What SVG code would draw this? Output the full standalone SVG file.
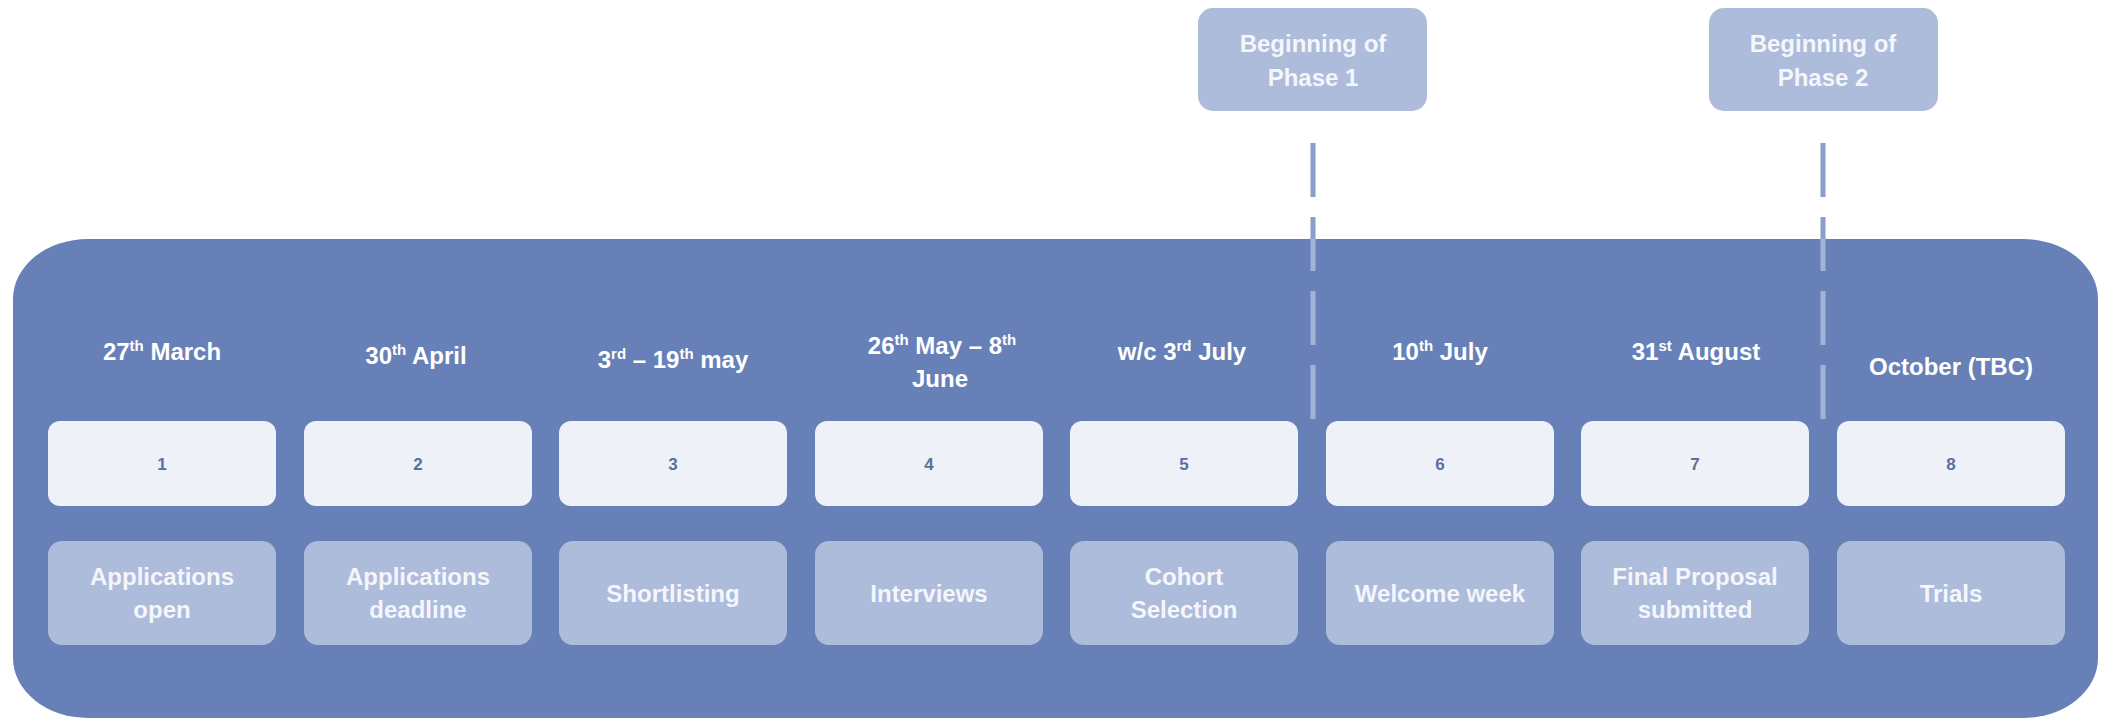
<svg xmlns="http://www.w3.org/2000/svg" width="2101" height="720" viewBox="0 0 2101 720">
  <defs>
    <style>
      .bg { fill: #6781B8; }
      .num-box { fill: #EEF1F8; }
      .lbl-box { fill: #ADBCDB; }
      .phase-box { fill: #ADBCDB; }
      .date { font-family: "Liberation Sans", Arial, sans-serif; font-weight: bold; font-size: 24px; fill: #FFFFFF; text-anchor: middle; }
      .lbl { font-family: "Liberation Sans", Arial, sans-serif; font-weight: bold; font-size: 24px; fill: #F4F6FB; text-anchor: middle; }
      .num { font-family: "Liberation Sans", Arial, sans-serif; font-weight: bold; font-size: 17px; fill: #5B6F9E; text-anchor: middle; }
      .dash-out { fill: none; stroke: #8A9ECB; stroke-width: 5; stroke-dasharray: 54 20; }
      .dash-in { fill: none; stroke: #A4B4D8; stroke-width: 5; stroke-dasharray: 54 20; }
    </style>
    <clipPath id="inside">
      <rect x="0" y="239" width="2101" height="481"/>
    </clipPath>
    <clipPath id="outside">
      <rect x="0" y="0" width="2101" height="239"/>
    </clipPath>
  </defs>

  <rect width="2101" height="720" fill="#FFFFFF"/>

  <g id="timeline-band">
    <rect class="bg" x="13" y="239" width="2085" height="479" rx="75" ry="60"/>
  </g>

  <g id="connectors">
    <g clip-path="url(#outside)">
      <line class="dash-out" x1="1313" y1="143" x2="1313" y2="420"/>
      <line class="dash-out" x1="1823" y1="143" x2="1823" y2="420"/>
    </g>
    <g clip-path="url(#inside)">
      <line class="dash-in" x1="1313" y1="143" x2="1313" y2="420"/>
      <line class="dash-in" x1="1823" y1="143" x2="1823" y2="420"/>
    </g>
  </g>

  <g id="phase1">
    <rect class="phase-box" x="1198" y="8" width="229" height="103" rx="15"/>
    <text class="lbl" x="1313" y="52">Beginning of</text>
    <text class="lbl" x="1313" y="86">Phase 1</text>
  </g>
  <g id="phase2">
    <rect class="phase-box" x="1709" y="8" width="229" height="103" rx="15"/>
    <text class="lbl" x="1823" y="52">Beginning of</text>
    <text class="lbl" x="1823" y="86">Phase 2</text>
  </g>

  <g id="step1">
    <text class="date" x="162" y="360">27<tspan font-size="15" dy="-9">th</tspan><tspan dy="9"> March</tspan></text>
    <rect class="num-box" x="48" y="421" width="228" height="85" rx="12"/>
    <text class="num" x="162" y="470">1</text>
    <rect class="lbl-box" x="48" y="541" width="228" height="104" rx="14"/>
    <text class="lbl" x="162" y="585">Applications</text>
    <text class="lbl" x="162" y="618">open</text>
  </g>

  <g id="step2">
    <text class="date" x="416" y="364">30<tspan font-size="15" dy="-9">th</tspan><tspan dy="9"> April</tspan></text>
    <rect class="num-box" x="304" y="421" width="228" height="85" rx="12"/>
    <text class="num" x="418" y="470">2</text>
    <rect class="lbl-box" x="304" y="541" width="228" height="104" rx="14"/>
    <text class="lbl" x="418" y="585">Applications</text>
    <text class="lbl" x="418" y="618">deadline</text>
  </g>

  <g id="step3">
    <text class="date" x="673" y="368">3<tspan font-size="15" dy="-9">rd</tspan><tspan dy="9"> – 19</tspan><tspan font-size="15" dy="-9">th</tspan><tspan dy="9"> may</tspan></text>
    <rect class="num-box" x="559" y="421" width="228" height="85" rx="12"/>
    <text class="num" x="673" y="470">3</text>
    <rect class="lbl-box" x="559" y="541" width="228" height="104" rx="14"/>
    <text class="lbl" x="673" y="602">Shortlisting</text>
  </g>

  <g id="step4">
    <text class="date" x="942" y="354">26<tspan font-size="15" dy="-9">th</tspan><tspan dy="9"> May – 8</tspan><tspan font-size="15" dy="-9">th</tspan></text>
    <text class="date" x="940" y="387">June</text>
    <rect class="num-box" x="815" y="421" width="228" height="85" rx="12"/>
    <text class="num" x="929" y="470">4</text>
    <rect class="lbl-box" x="815" y="541" width="228" height="104" rx="14"/>
    <text class="lbl" x="929" y="602">Interviews</text>
  </g>

  <g id="step5">
    <text class="date" x="1182" y="360">w/c 3<tspan font-size="15" dy="-9">rd</tspan><tspan dy="9"> July</tspan></text>
    <rect class="num-box" x="1070" y="421" width="228" height="85" rx="12"/>
    <text class="num" x="1184" y="470">5</text>
    <rect class="lbl-box" x="1070" y="541" width="228" height="104" rx="14"/>
    <text class="lbl" x="1184" y="585">Cohort</text>
    <text class="lbl" x="1184" y="618">Selection</text>
  </g>

  <g id="step6">
    <text class="date" x="1440" y="360">10<tspan font-size="15" dy="-9">th</tspan><tspan dy="9"> July</tspan></text>
    <rect class="num-box" x="1326" y="421" width="228" height="85" rx="12"/>
    <text class="num" x="1440" y="470">6</text>
    <rect class="lbl-box" x="1326" y="541" width="228" height="104" rx="14"/>
    <text class="lbl" x="1440" y="602">Welcome week</text>
  </g>

  <g id="step7">
    <text class="date" x="1696" y="360">31<tspan font-size="15" dy="-9">st</tspan><tspan dy="9"> August</tspan></text>
    <rect class="num-box" x="1581" y="421" width="228" height="85" rx="12"/>
    <text class="num" x="1695" y="470">7</text>
    <rect class="lbl-box" x="1581" y="541" width="228" height="104" rx="14"/>
    <text class="lbl" x="1695" y="585">Final Proposal</text>
    <text class="lbl" x="1695" y="618">submitted</text>
  </g>

  <g id="step8">
    <text class="date" x="1951" y="375">October (TBC)</text>
    <rect class="num-box" x="1837" y="421" width="228" height="85" rx="12"/>
    <text class="num" x="1951" y="470">8</text>
    <rect class="lbl-box" x="1837" y="541" width="228" height="104" rx="14"/>
    <text class="lbl" x="1951" y="602">Trials</text>
  </g>
</svg>
